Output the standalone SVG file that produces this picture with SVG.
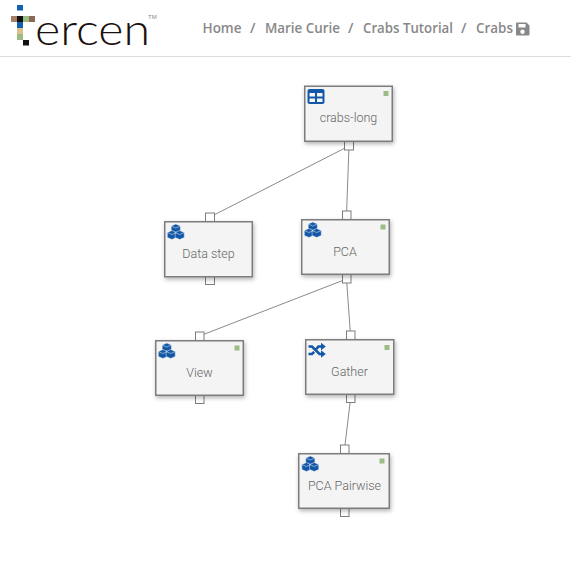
<svg xmlns="http://www.w3.org/2000/svg" width="571" height="586" viewBox="0 0 571 586">
<defs>
<filter id="sh" x="-20%" y="-20%" width="140%" height="140%"><feDropShadow dx="1" dy="2" stdDeviation="2" flood-color="#000" flood-opacity="0.3"/></filter>
<g id="cubes" fill="#1358a8" stroke="#f4f4f4" stroke-width="0.5">
<path d="M8.500 0l4.600 2v5l-4.600 2-4.600-2V2z"/>
<path d="M4.600 6.500l4.600 2v5l-4.600 2-4.600-2v-5z"/>
<path d="M12.400 6.500l4.600 2v5l-4.600 2-4.600-2v-5z"/>
<path d="M3.900 2l4.600 2 4.600-2M0 8.500l4.600 2 4.600-2M7.800 8.500l4.600 2 4.600-2" fill="none"/>
</g>
<style>
.b{fill:#f4f4f4;stroke:#7d7d7d;stroke-width:1.500}
.p{fill:#fff;stroke:#7d7d7d;stroke-width:1}
.d{fill:#9dbb85}
.l{font:300 12.500px Roboto,"Liberation Sans",sans-serif;fill:#666;text-anchor:middle}
.c{stroke:#8a8a8a;stroke-width:1;fill:none}
.n{font:600 14px "Open Sans","Liberation Sans",sans-serif;fill:#888}
</style>
</defs>
<rect width="571" height="586" fill="#fff"/>
<rect x="0" y="56" width="571" height="1" fill="#ddd"/>
<g id="logo">
<rect x="17" y="5" width="6" height="5.500" fill="#1360b0"/>
<rect x="11" y="16" width="6" height="6" fill="#a67f68"/>
<rect x="17" y="16" width="6" height="6" fill="#111"/>
<rect x="23" y="16" width="6" height="6" fill="#9dbb85"/>
<rect x="29" y="16" width="6" height="6" fill="#8b6a55"/>
<rect x="17" y="22" width="6" height="6" fill="#1360b0"/>
<rect x="17" y="28" width="6" height="6" fill="#dcc08f"/>
<rect x="17" y="34" width="6" height="6" fill="#9dbb85"/>
<rect x="23" y="40" width="6" height="5.500" fill="#111"/>
<text x="35" y="45" font-family="Lato,sans-serif" font-weight="300" font-size="43" fill="#1a1010" textLength="115" lengthAdjust="spacingAndGlyphs">ercen</text>
<text x="148" y="19" font-family="'Liberation Sans',sans-serif" font-size="6" fill="#888">TM</text>
</g>
<g id="breadcrumb">
<text class="n" x="202.500" y="33" textLength="39" lengthAdjust="spacingAndGlyphs">Home</text>
<text class="n" x="250" y="33">/</text>
<text class="n" x="265" y="33" textLength="75" lengthAdjust="spacingAndGlyphs">Marie Curie</text>
<text class="n" x="348" y="33">/</text>
<text class="n" x="363" y="33" textLength="90" lengthAdjust="spacingAndGlyphs">Crabs Tutorial</text>
<text class="n" x="461" y="33">/</text>
<text class="n" x="476" y="33" textLength="37" lengthAdjust="spacingAndGlyphs">Crabs</text>
<path d="M517 22.500h9.500l3 3v9a1 1 0 0 1-1 1h-11.500a1 1 0 0 1-1-1v-11a1 1 0 0 1 1-1zm1.500 1.500v3.500h7v-3.500zm4 5.500a2.200 2.200 0 1 0 0 4.400 2.200 2.200 0 0 0 0-4.400z" fill="#888" fill-rule="evenodd"/>
</g>
<g id="connectors">
<line class="c" x1="349" y1="146" x2="210" y2="217"/>
<line class="c" x1="349" y1="146" x2="346.500" y2="215"/>
<line class="c" x1="346.500" y1="279" x2="199.500" y2="336"/>
<line class="c" x1="346.500" y1="279" x2="350.500" y2="335"/>
<line class="c" x1="350.500" y1="399" x2="344.500" y2="449"/>
</g>
<g id="crabs-long">
<rect class="p" x="344.500" y="141" width="9" height="9"/>
<rect class="b" x="304.750" y="86.250" width="87.500" height="55" filter="url(#sh)"/>
<rect class="d" x="383.500" y="91" width="5" height="5"/>
<path d="M309.500 89h13a2 2 0 0 1 2 2v11a2 2 0 0 1-2 2h-13a2 2 0 0 1-2-2v-11a2 2 0 0 1 2-2z" fill="#1358a8"/>
<path d="M309.500 93h5.500v3.500h-5.500zM317 93h5.500v3.500h-5.500zM309.500 98.500h5.500v3.500h-5.500zM317 98.500h5.500v3.500h-5.500z" fill="#f4f4f4"/>
<text class="l" x="348.500" y="122">crabs-long</text>
</g>
<g id="data-step">
<rect class="p" x="205.500" y="213" width="9" height="8.500"/>
<rect class="p" x="205.500" y="276" width="9" height="8.500"/>
<rect class="b" x="164.750" y="221.750" width="87.500" height="55" filter="url(#sh)"/>
<use href="#cubes" x="167.300" y="224"/>
<text class="l" x="208.500" y="258">Data step</text>
</g>
<g id="pca">
<rect class="p" x="342.500" y="211" width="8.500" height="8.500"/>
<rect class="p" x="342.500" y="274" width="8.500" height="9"/>
<rect class="b" x="301.750" y="219.750" width="87.500" height="54.500" filter="url(#sh)"/>
<rect class="d" x="380.500" y="224.500" width="5" height="5"/>
<use href="#cubes" x="304.300" y="222"/>
<text class="l" x="345" y="256">PCA</text>
</g>
<g id="view">
<rect class="p" x="195.500" y="332" width="8.500" height="8.500"/>
<rect class="p" x="195.500" y="395" width="8.500" height="8.500"/>
<rect class="b" x="155.750" y="340.750" width="87.500" height="54.500" filter="url(#sh)"/>
<rect class="d" x="234.500" y="345.500" width="5" height="5"/>
<use href="#cubes" x="158.300" y="343"/>
<text class="l" x="199.500" y="377">View</text>
</g>
<g id="gather">
<rect class="p" x="346.500" y="331" width="8.500" height="8.500"/>
<rect class="p" x="346.500" y="394" width="8.500" height="8.500"/>
<rect class="b" x="305.750" y="339.750" width="88" height="54.500" filter="url(#sh)"/>
<rect class="d" x="384.500" y="345" width="5" height="5"/>
<path d="M308.500 346.500h3.500l7.500 7.500h2M308.500 354h3.500l2.200-2.200M316.500 349l1.800-2.500h3.200" fill="none" stroke="#1358a8" stroke-width="2.600"/>
<path d="M321 342.700l4.800 3.800-4.800 3.800zM321 350.200l4.800 3.800-4.800 3.800z" fill="#1358a8"/>
<text class="l" x="349.500" y="376">Gather</text>
</g>
<g id="pca-pairwise">
<rect class="p" x="340.500" y="445" width="8.500" height="8.500"/>
<rect class="p" x="340.500" y="508" width="8.500" height="8.500"/>
<rect class="b" x="298.750" y="453.750" width="90.500" height="54.500" filter="url(#sh)"/>
<rect class="d" x="379.500" y="458.500" width="5" height="5"/>
<use href="#cubes" x="301.800" y="456"/>
<text class="l" x="344.500" y="490">PCA Pairwise</text>
</g>
</svg>
